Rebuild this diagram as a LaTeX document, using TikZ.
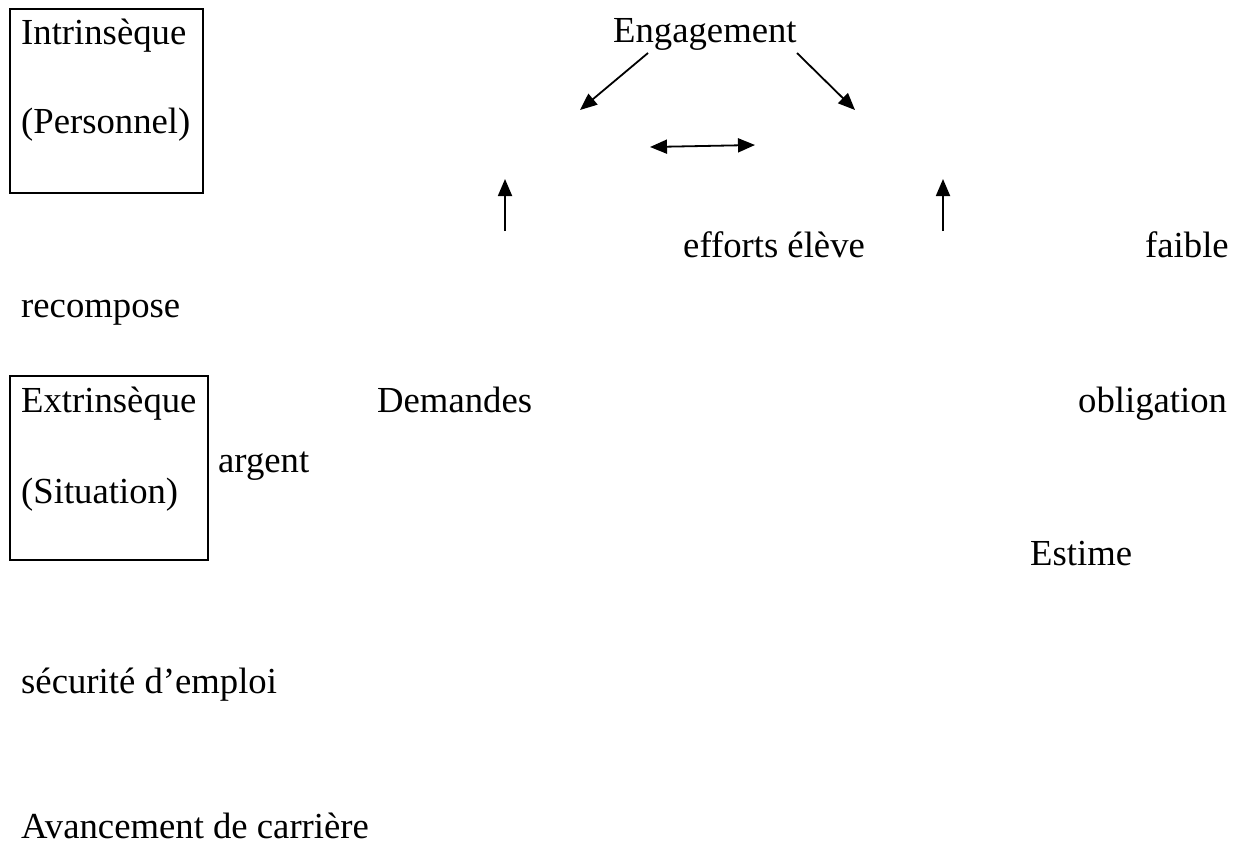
\documentclass[tikz,border=0pt]{standalone}
\usepackage{fontspec}
\setmainfont{Liberation Serif}
\usetikzlibrary{arrows.meta}
\begin{document}
\begin{tikzpicture}[x=1pt, y=-1pt,
	lbl/.style={inner sep=0pt, anchor=base west, font=\fontsize{36.7}{44}\selectfont},
	arr/.style={-{Triangle[length=17pt, width=14pt]}, line width=1.8pt},
	dblarr/.style={{Triangle[length=17pt, width=14pt]}-{Triangle[length=17pt, width=14pt]}, line width=1.8pt},
	cadre/.style={line width=2pt}]
	\useasboundingbox (0,0) rectangle (1242,852);
%	helplines
%	\draw[thin] (0,0) grid (1242,852);

	\draw[cadre] (10,9) rectangle (203,193);
	\draw[cadre] (10,376) rectangle (208,560);

	\node (intr)[lbl] at (21,44) {Intrinsèque};
	\node (pers)[lbl] at (21,133) {(Personnel)};
	\node (extr)[lbl] at (21,412) {Extrinsèque};
	\node (situ)[lbl] at (21,503) {(Situation)};

	\node (eng)[lbl] at (613,42) {Engagement};
	\node (eff)[lbl] at (683,257) {efforts élève};
	\node (faib)[lbl] at (1145,257) {faible};
	\node (reco)[lbl] at (21,317) {recompose};
	\node (dem)[lbl] at (377,412) {Demandes};
	\node (oblig)[lbl] at (1078,412) {obligation};
	\node (arg)[lbl] at (218,472) {argent};
	\node (est)[lbl] at (1030,565) {Estime};
	\node (secu)[lbl] at (21,693) {sécurité d’emploi};
	\node (avanc)[lbl] at (21,838) {Avancement de carrière};

	\coordinate (engA) at (648,53);
	\coordinate (engB) at (797,53);
	\coordinate (gauche) at (580,110);
	\coordinate (droite) at (855,110);
	\coordinate (dblA) at (650,147);
	\coordinate (dblB) at (755,145);
	\coordinate (basG) at (505,231);
	\coordinate (hautG) at (505,179);
	\coordinate (basD) at (943,231);
	\coordinate (hautD) at (943,179);

	\draw[arr] (engA) -- (gauche);
	\draw[arr] (engB) -- (droite);
	\draw[dblarr] (dblA) -- (dblB);
	\draw[arr] (basG) -- (hautG);
	\draw[arr] (basD) -- (hautD);

\end{tikzpicture}
\end{document}
